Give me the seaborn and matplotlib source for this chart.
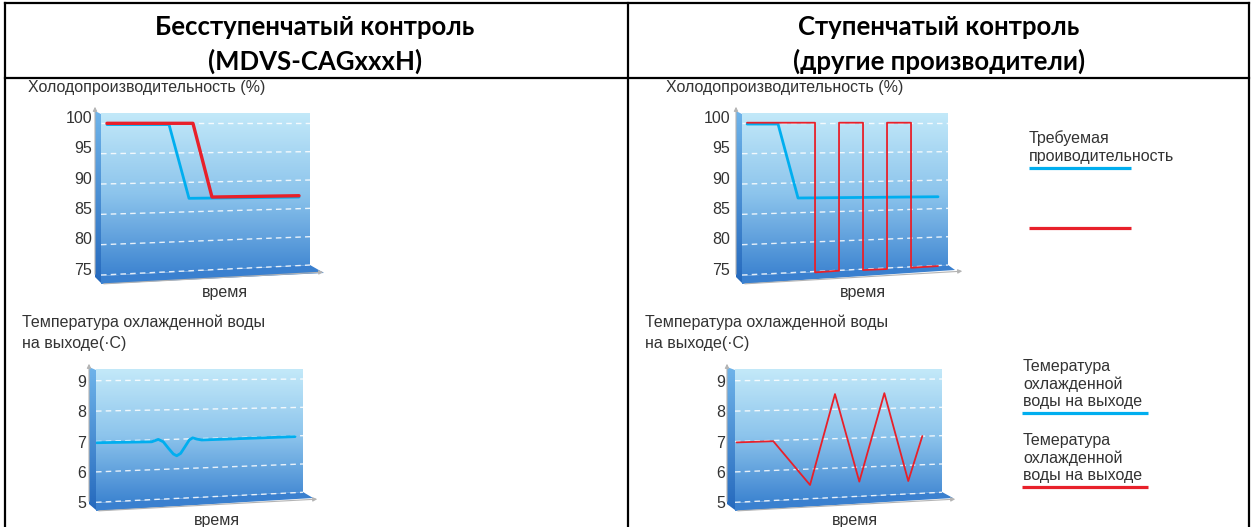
import numpy as np
import seaborn as sns
import matplotlib.pyplot as plt
from matplotlib.colors import LinearSegmentedColormap
from matplotlib.patches import Polygon, Rectangle

sns.set_theme(style="white")
plt.rcParams['font.family'] = ['Liberation Sans', 'DejaVu Sans']

W, H = 1256, 527

# ---- data (time axis in arbitrary units 0..20) ----
cap_ticks = [75, 80, 85, 90, 95, 100]
temp_ticks = [5, 6, 7, 8, 9]

# stepless control, capacity (%)
sl_req_t = [0.57, 6.51, 8.42, 18.95]
sl_req = [99.8, 99.8, 87.64, 87.85]
sl_out_t = [0.57, 8.80, 10.62, 18.95]
sl_out = [100.0, 100.0, 87.85, 88.07]

# step control, capacity (%)
st_req_t = [0.49, 3.50, 5.44, 19.03]
st_req = [99.88, 99.88, 87.69, 87.90]
st_out_t = [0.49, 7.09, 7.09, 9.42, 9.42, 11.75, 11.75, 14.08, 14.08, 16.41, 16.41, 19.03]
st_out = [100.1, 100.1, 75.44, 75.71, 100.1, 100.1, 75.82, 75.99, 100.1, 100.1, 76.2, 76.48]

# stepless control, leaving water temperature (C)
sl_temp_t = [0.05, 5.38, 5.54, 6.02, 6.50, 6.99, 7.47, 7.80, 8.18, 8.60, 9.01, 9.34, 9.73, 10.21, 19.23]
sl_temp = [6.96, 6.99, 7.01, 7.07, 6.99, 6.78, 6.59, 6.53, 6.61, 6.83, 7.05, 7.12, 7.08, 7.05, 7.16]

# step control, leaving water temperature (C)
st_temp_t = [0.16, 3.70, 7.25, 9.66, 12.01, 14.43, 16.74, 18.10]
st_temp = [6.97, 7.01, 5.57, 8.56, 5.68, 8.59, 5.70, 7.18]

BLUE = '#00aeef'
RED = '#e8202a'
TXT = '#333333'
GREY = '#b4b4b4'

wall_cmap = LinearSegmentedColormap.from_list('wall', ['#c3e9f9', '#8cc4ec', '#3c83d0'])
side_cmap = LinearSegmentedColormap.from_list('side', ['#6fb4ea', '#2569bd'])

fig = plt.figure(figsize=(W / 100, H / 100), dpi=100)

under = fig.add_axes([0, 0, 1, 1], zorder=0)
under.axis('off')
over = fig.add_axes([0, 0, 1, 1], zorder=3)
over.axis('off')


def grad_poly(ax, verts, cmap):
    xs = [v[0] for v in verts]
    ys = [v[1] for v in verts]
    img = ax.imshow(np.linspace(0, 1, 256)[:, None], cmap=cmap, aspect='auto',
                    extent=(min(xs), max(xs), max(ys), min(ys)), origin='upper', zorder=1)
    poly = Polygon(verts, closed=True, fc='none', ec='none')
    ax.add_patch(poly)
    img.set_clip_path(poly)


def chart(l, t, r, b, ylim, ticks, drops, lab_dx, lab_dy, side_x, tip, arrow_end, y_top):
    ax = fig.add_axes([l / W, 1 - b / H, (r - l) / W, (b - t) / H], zorder=1)
    ax.set_facecolor('none')
    img = ax.imshow(np.linspace(0, 1, 256)[:, None], cmap=wall_cmap, aspect='auto',
                    extent=(0, 20, ylim[0], ylim[1]), origin='upper', zorder=0)
    clip = Polygon([(0, 0), (0, 1), (1, 1), (1, 11 / (b - t))], transform=ax.transAxes,
                   fc='none', ec='none')
    ax.add_patch(clip)
    img.set_clip_path(clip)

    ppu = (b - t) / (ylim[1] - ylim[0])
    for v in ticks:
        f = (ticks[-1] - v) / (ticks[-1] - ticks[0])
        dv = (drops[0] + (drops[1] - drops[0]) * f) / ppu
        ax.plot([0, 20], [v, v + dv], color='white', lw=1, ls=(0, (4, 3)), alpha=0.85, zorder=1)
        ax.annotate(str(v), xy=(0, v), xycoords=('axes fraction', 'data'),
                    xytext=(lab_dx, lab_dy), textcoords='offset pixels', ha='right',
                    va='center', fontsize=11.5, color=TXT, annotation_clip=False)

    # side wall, floor and axis arrows
    grad_poly(under, [(side_x, t - 2), (l, t + 1), (l, b + 7), (side_x, b + 1)], side_cmap)
    under.add_patch(Polygon([(l, b), (r, b - 11), tip, (l, b + 8)], fc='#3a80cf', ec='none', zorder=1))
    under.annotate('', xy=(side_x, y_top), xytext=(side_x, b + 1),
                   arrowprops=dict(arrowstyle='-|>', color=GREY, lw=0.8, mutation_scale=6))
    under.annotate('', xy=arrow_end, xytext=(l, b + 8),
                   arrowprops=dict(arrowstyle='-|>', color=GREY, lw=0.8, mutation_scale=6))
    return ax


def finish(ax, ylim):
    ax.set_xlim(0, 20)
    ax.set_ylim(*ylim)
    ax.set(xlabel='', ylabel='', xticks=[], yticks=[])
    ax.grid(False)
    for s in ax.spines.values():
        s.set_visible(False)


cap_lim = (74.84, 101.70)
temp_lim = (4.977, 9.385)

# top left
ax1 = chart(101, 113, 310, 276, cap_lim, cap_ticks, (0, 10), -9, 5, 95, (324, 273), (326, 272), 104)
sns.lineplot(x=sl_req_t, y=sl_req, ax=ax1, color=BLUE, linewidth=2, sort=False, estimator=None, zorder=3)
sns.lineplot(x=sl_out_t, y=sl_out, ax=ax1, color=RED, linewidth=2.4, sort=False, estimator=None, zorder=4)
finish(ax1, cap_lim)

# top right
ax2 = chart(742, 113, 948, 276, cap_lim, cap_ticks, (0, 10), -12, 5, 736, (955, 270), (965, 271), 104)
sns.lineplot(x=st_req_t, y=st_req, ax=ax2, color=BLUE, linewidth=2, sort=False, estimator=None, zorder=3)
sns.lineplot(x=st_out_t, y=st_out, ax=ax2, color=RED, linewidth=1.3, sort=False, estimator=None, zorder=4)
finish(ax2, cap_lim)

# bottom left
ax3 = chart(96, 369, 303, 503, temp_lim, temp_ticks, (1.7, 10), -10, -1.5, 89, (313, 498), (320, 499), 361)
sns.lineplot(x=sl_temp_t, y=sl_temp, ax=ax3, color=BLUE, linewidth=2, sort=False, estimator=None, zorder=3)
finish(ax3, temp_lim)

# bottom right
ax4 = chart(735, 369, 942, 503, temp_lim, temp_ticks, (1.7, 10), -10, -1.5, 727, (953, 498), (958, 499), 361)
sns.lineplot(x=st_temp_t, y=st_temp, ax=ax4, color=RED, linewidth=1.3, sort=False, estimator=None, zorder=3)
finish(ax4, temp_lim)

# ---- texts ----
kw = dict(fontsize=11.5, color=TXT, zorder=1)
over.text(28, 92, 'Холодопроизводительность (%)', va='baseline', **kw)
over.text(666, 92, 'Холодопроизводительность (%)', va='baseline', **kw)
for x0 in (22, 645):
    over.text(x0, 326.7, 'Температура охлажденной воды', va='baseline', **kw)
    over.text(x0, 347.7, 'на выходе(·С)', va='baseline', **kw)
over.text(225, 296.7, 'время', ha='center', va='baseline', **kw)
over.text(863, 296.7, 'время', ha='center', va='baseline', **kw)
over.text(217, 525, 'время', ha='center', va='baseline', **kw)
over.text(855, 525, 'время', ha='center', va='baseline', **kw)

# legend notes on the right
over.text(1029, 142.7, 'Требуемая', va='baseline', **kw)
over.text(1029, 161, 'проиводительность', va='baseline', **kw)
over.plot([1029, 1131], [167.7, 167.7], color=BLUE, lw=2.3, solid_capstyle='butt')
over.plot([1029, 1131], [227.7, 227.7], color=RED, lw=2.3, solid_capstyle='butt')
for y0, c in ((370.7, BLUE), (445, RED)):
    over.text(1023, y0, 'Темература', va='baseline', **kw)
    over.text(1023, y0 + 18.3, 'охлажденной', va='baseline', **kw)
    over.text(1023, y0 + 35.3, 'воды на выходе', va='baseline', **kw)
    over.plot([1022, 1148], [y0 + 42, y0 + 42], color=c, lw=2.3, solid_capstyle='butt')

# ---- table header ----
over.add_patch(Rectangle((5, 0), 1245, 77.5, fc='white', ec='none', zorder=2))
hkw = dict(fontsize=18.5, fontweight='bold', family=['Lato', 'DejaVu Sans'], color='black',
           ha='center', va='center', zorder=4)
over.text(315, 27, 'Бесступенчатый контроль', **hkw)
over.text(315, 61, '(MDVS-CAGxxxH)', **hkw)
over.text(939, 27, 'Ступенчатый контроль', **hkw)
over.text(939, 61, '(другие производители)', **hkw)
lkw = dict(color='black', lw=1.6, zorder=5, solid_capstyle='projecting')
over.plot([5, 1249], [2.5, 2.5], **lkw)
over.plot([5, 1249], [77.5, 77.5], **lkw)
for x0 in (5, 628, 1249):
    over.plot([x0, x0], [2.5, 527], **lkw)

for a in (under, over):
    a.set_xlim(0, W)
    a.set_ylim(H, 0)

fig.savefig('out.png', dpi=100)
